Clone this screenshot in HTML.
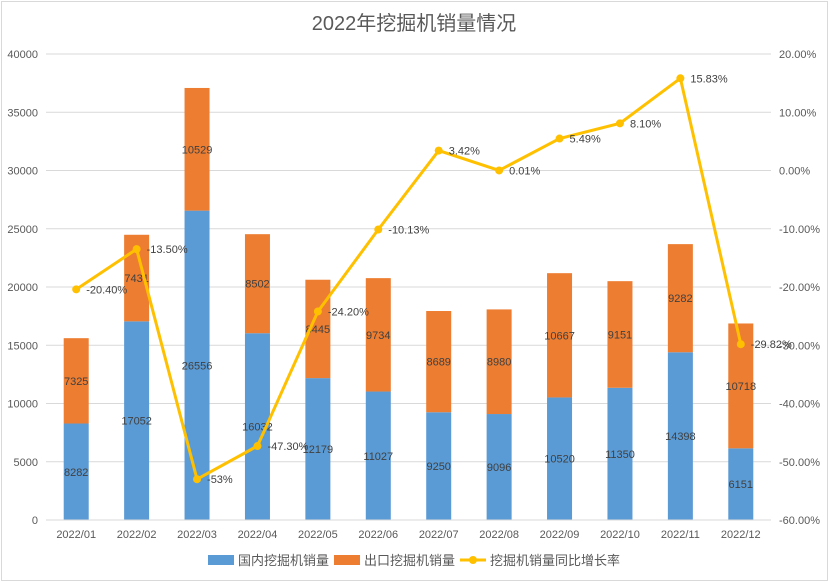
<!DOCTYPE html>
<html><head><meta charset="utf-8"><style>
body{margin:0;background:#fff;font-family:"Liberation Sans","Noto Sans CJK SC",sans-serif}
</style></head><body>
<svg id="c" width="829" height="582" xmlns="http://www.w3.org/2000/svg" font-family="Liberation Sans, Noto Sans CJK SC, sans-serif">
<rect x="1.5" y="1.5" width="826" height="579" fill="#fff" stroke="#d9d9d9"/>
<text x="414" y="30" font-size="20" fill="#595959" text-anchor="middle">2022年挖掘机销量情况</text>
<g id="grid"></g><g id="bars"></g><g id="line"></g><g id="axes"></g>
<g font-size="13" fill="#595959">
<rect x="208" y="555" width="26" height="10" fill="#5b9bd5"/><text x="238" y="565">国内挖掘机销量</text>
<rect x="334" y="555" width="26" height="10" fill="#ed7d31"/><text x="364" y="565">出口挖掘机销量</text>
<line x1="460" y1="560" x2="486" y2="560" stroke="#ffc000" stroke-width="3"/><circle cx="473" cy="560" r="4" fill="#ffc000"/><text x="490" y="565">挖掘机销量同比增长率</text>
</g>
</svg>
<script>
const categories=["2022/01","2022/02","2022/03","2022/04","2022/05","2022/06","2022/07","2022/08","2022/09","2022/10","2022/11","2022/12"];
const domestic=[8282,17052,26556,16032,12179,11027,9250,9096,10520,11350,14398,6151];
const exportv=[7325,7431,10529,8502,8445,9734,8689,8980,10667,9151,9282,10718];
const yoy=[-20.40,-13.50,-53,-47.30,-24.20,-10.13,3.42,0.01,5.49,8.10,15.83,-29.82];
const yoyLabels=["-20.40%","-13.50%","-53%","-47.30%","-24.20%","-10.13%","3.42%","0.01%","5.49%","8.10%","15.83%","-29.82%"];
const leftTicks=[0,5000,10000,15000,20000,25000,30000,35000,40000];
const rightTicks=[-60,-50,-40,-30,-20,-10,0,10,20];
const NS="http://www.w3.org/2000/svg";
const x0=46,x1=771,yTop=54,yBot=520;
const step=(x1-x0)/categories.length;
const xc=i=>x0+step*(i+0.5);
const yL=v=>yBot-(v/40000)*(yBot-yTop);
const yR=v=>yBot-((v+60)/80)*(yBot-yTop);
function mk(tag,attrs,parent,txt){const e=document.createElementNS(NS,tag);for(const k in attrs)e.setAttribute(k,attrs[k]);if(txt!==undefined)e.textContent=txt;document.getElementById(parent).appendChild(e);return e;}
leftTicks.forEach((t,i)=>{
 const g=mk('line',{x1:x0,x2:x1,y1:yL(t),y2:yL(t),stroke:'#d9d9d9'},'grid');
 
 
 const a=mk('text',{x:38,y:yL(t)+4,'font-size':11,fill:'#595959','text-anchor':'end'},'axes',String(t));
 
 
});
rightTicks.forEach(t=>{
 const a=mk('text',{x:779,y:yR(t)+4,'font-size':11,fill:'#595959'},'axes',t.toFixed(2)+'%');
 
 
});
const bw=25;
categories.forEach((c,i)=>{
 const x=xc(i)-bw/2;
 const d=mk('rect',{x:x,y:yL(domestic[i]),width:bw,height:yBot-yL(domestic[i]),fill:'#5b9bd5'},'bars');
 
 
 const e=mk('rect',{x:x,y:yL(domestic[i]+exportv[i]),width:bw,height:yL(domestic[i])-yL(domestic[i]+exportv[i]),fill:'#ed7d31'},'bars');
 
 
 const l1=mk('text',{x:xc(i),y:(yL(domestic[i])+yBot)/2+4,'font-size':11,fill:'#404040','text-anchor':'middle'},'bars',String(domestic[i]));
 
 
 const l2=mk('text',{x:xc(i),y:(yL(domestic[i])+yL(domestic[i]+exportv[i]))/2+4,'font-size':11,fill:'#404040','text-anchor':'middle'},'bars',String(exportv[i]));
 
 
 const cl=mk('text',{x:xc(i),y:538,'font-size':11,fill:'#595959','text-anchor':'middle'},'axes',c);
 
 
});
const ax=mk('line',{x1:x0,x2:x1,y1:yBot,y2:yBot,stroke:'#d9d9d9'},'axes');


const pl=mk('polyline',{points:yoy.map((v,i)=>xc(i)+','+yR(v)).join(' '),fill:'none',stroke:'#ffc000','stroke-width':3,'stroke-linejoin':'round'},'line');


yoy.forEach((v,i)=>{
 const p=mk('circle',{cx:xc(i),cy:yR(v),r:4,fill:'#ffc000'},'line');
 
 
 const t=mk('text',{x:xc(i)+10,y:yR(v)+4,'font-size':11,fill:'#404040'},'line',yoyLabels[i]);
 
 
});
</script>
</body></html>
